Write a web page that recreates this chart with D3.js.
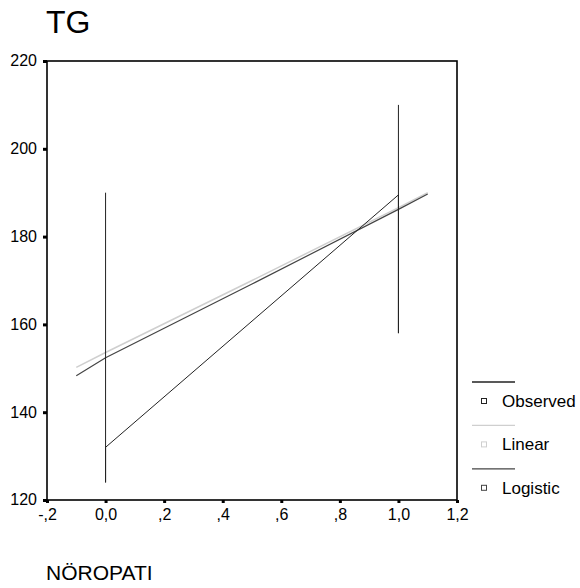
<!DOCTYPE html>
<html>
<head>
<meta charset="utf-8">
<script src="https://d3js.org/d3.v7.min.js"></script>
<style>
    body { margin: 0; background: #fff; }
    svg text { font-family: 'Liberation Sans', Arial, sans-serif; fill: #000; }
    .tick text { font-size: 16px; }
    .legend text { font-size: 17px; }
</style>
</head>
<body>
<svg width="580" height="588"></svg>
<script>
    // observed path: range at x=0, mean-to-mean segment, range at x=1
    var observedX = [0, 0, 0, 1, 1, 1];
    var observedY = [190, 124, 132, 189.5, 158, 210];
    // fitted curves
    var fitX = [-0.1, 0, 0.5, 1, 1.1];
    var linearY = [150.2, 153.6, 170, 186.6, 190];
    var logisticY = [148.3, 152.4, 169.2, 186.2, 189.7];

    var xTicks = [-0.2, 0, 0.2, 0.4, 0.6, 0.8, 1.0, 1.2];
    var xTickLabels = ["-,2", "0,0", ",2", ",4", ",6", ",8", "1,0", "1,2"];
    var yTicks = [120, 140, 160, 180, 200, 220];

    var legendNames = ["Observed", "Linear", "Logistic"];
    var legendColors = ["#222", "#cfcfcf", "#444"];

    var svg = d3.select("svg");
    var plotLeft = 47, plotRight = 457, plotTop = 61, plotBottom = 500;

    var x = d3.scaleLinear().domain([-0.2, 1.2]).range([plotLeft, plotRight]);
    var y = d3.scaleLinear().domain([120, 220]).range([plotBottom, plotTop]);

    // title
    svg.append("text")
        .attr("x", 46).attr("y", 33)
        .style("font-size", "32px")
        .text("TG");

    // axes
    var xAxis = d3.axisBottom(x).tickValues(xTicks)
        .tickFormat(function (d, i) { return xTickLabels[i]; })
        .tickSize(3).tickPadding(6);
    var yAxis = d3.axisLeft(y).tickValues(yTicks).tickSize(4).tickPadding(6);

    var gx = svg.append("g").attr("transform", "translate(0," + plotBottom + ")").call(xAxis);
    var gy = svg.append("g").attr("transform", "translate(" + plotLeft + ",0)").call(yAxis);
    [gx, gy].forEach(function (g) {
        g.select(".domain").remove();
        g.selectAll(".tick line").attr("stroke", "#000").attr("stroke-width", 3);
    });
    gy.selectAll(".tick text").attr("dy", "0.3em");

    // frame
    svg.append("rect")
        .attr("x", plotLeft).attr("y", plotTop)
        .attr("width", plotRight - plotLeft).attr("height", plotBottom - plotTop)
        .attr("fill", "none").attr("stroke", "#000").attr("stroke-width", 1.6);

    var line = d3.line()
        .x(function (d) { return x(d[0]); })
        .y(function (d) { return y(d[1]); });

    svg.append("path")
        .datum(fitX.map(function (v, i) { return [v, linearY[i]]; }))
        .attr("d", line).attr("fill", "none")
        .attr("stroke", legendColors[1]).attr("stroke-width", 1.5);

    svg.append("path")
        .datum(fitX.map(function (v, i) { return [v, logisticY[i]]; }))
        .attr("d", line).attr("fill", "none")
        .attr("stroke", legendColors[2]).attr("stroke-width", 1.2);

    svg.append("path")
        .datum(observedX.map(function (v, i) { return [v, observedY[i]]; }))
        .attr("d", line).attr("fill", "none")
        .attr("stroke", legendColors[0]).attr("stroke-width", 1);

    // legend
    var legend = svg.append("g").attr("class", "legend");
    legendNames.forEach(function (name, i) {
        var ly = 382 + i * 43.4;
        legend.append("line")
            .attr("x1", 472).attr("x2", 515)
            .attr("y1", ly).attr("y2", ly)
            .attr("stroke", legendColors[i]).attr("stroke-width", 1.3);
        legend.append("rect")
            .attr("x", 481.5).attr("y", ly + 16.5)
            .attr("width", 5).attr("height", 5)
            .attr("fill", "#fff").attr("stroke", legendColors[i]).attr("stroke-width", 1);
        legend.append("text")
            .attr("x", 502).attr("y", ly + 25)
            .text(name);
    });

    // x axis title
    svg.append("text")
        .attr("x", 46).attr("y", 580)
        .style("font-size", "21px")
        .text("NÖROPATI");
</script>
</body>
</html>
